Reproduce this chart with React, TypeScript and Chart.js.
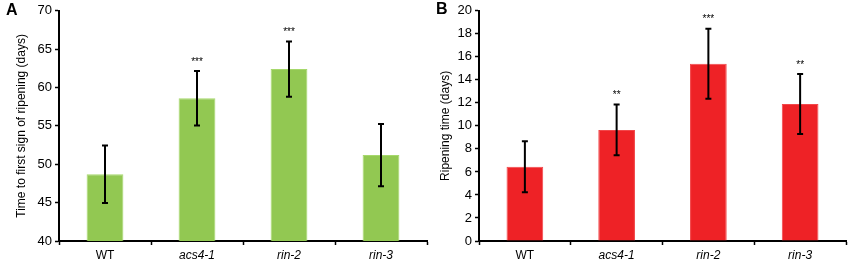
import React, { useEffect, useRef } from "react";
import { Chart, registerables } from "chart.js";

Chart.register(...registerables);

const categories = ["WT", "acs4-1", "rin-2", "rin-3"];

const timeToFirstSign = [48.7, 58.6, 62.4, 51.2];
const timeToFirstSignErr = [3.75, 3.55, 3.6, 4.05];
const timeToFirstSignSig = ["", "***", "***", ""];

const ripeningTime = [6.45, 9.65, 15.4, 11.9];
const ripeningTimeErr = [2.22, 2.2, 3.05, 2.6];
const ripeningTimeSig = ["", "**", "***", "**"];

const FONT = "'Liberation Sans', Arial, Helvetica, sans-serif";

type PanelProps = {
  values: number[];
  errors: number[];
  sig: string[];
  min: number;
  max: number;
  step: number;
  title: string;
  fill: string;
  border: string;
  yWidth: number;
  padRight: number;
  titlePad: number;
  width: number;
};

function Panel(p: PanelProps) {
  const ref = useRef<HTMLCanvasElement | null>(null);
  useEffect(() => {
    if (!ref.current) return;
    const errPlugin = {
      id: "errbars",
      afterDatasetsDraw(chart: any) {
        const ctx = chart.ctx;
        const xs = chart.scales.x;
        const ys = chart.scales.y;
        ctx.save();
        ctx.strokeStyle = "#000";
        ctx.lineWidth = 2;
        p.values.forEach((v, i) => {
          const x = xs.getPixelForValue(i);
          const yt = ys.getPixelForValue(v + p.errors[i]);
          const yb = ys.getPixelForValue(v - p.errors[i]);
          ctx.beginPath();
          ctx.moveTo(x, yt);
          ctx.lineTo(x, yb);
          ctx.moveTo(x - 3, yt);
          ctx.lineTo(x + 3, yt);
          ctx.moveTo(x - 3, yb);
          ctx.lineTo(x + 3, yb);
          ctx.stroke();
          if (p.sig[i]) {
            ctx.fillStyle = "#000";
            ctx.font = `10px ${FONT}`;
            ctx.textAlign = "center";
            ctx.textBaseline = "middle";
            ctx.fillText(p.sig[i], x, yt - 9);
          }
        });
        ctx.restore();
      },
    };
    const chart = new Chart(ref.current, {
      type: "bar",
      data: {
        labels: categories,
        datasets: [
          {
            data: p.values,
            backgroundColor: p.fill,
            borderColor: p.border,
            borderWidth: 1,
            barPercentage: 0.4,
            categoryPercentage: 1,
          },
        ],
      },
      options: {
        animation: false,
        responsive: false,
        maintainAspectRatio: false,
        layout: { padding: { top: 9, right: p.padRight, left: 0, bottom: 0 } },
        plugins: { legend: { display: false }, tooltip: { enabled: false } },
        scales: {
          x: {
            afterFit: (s: any) => {
              s.height = 21;
            },
            grid: {
              display: true,
              drawOnChartArea: false,
              drawTicks: true,
              tickLength: 4,
              tickWidth: 1.5,
              tickColor: "#000",
              offset: true,
            },
            border: { display: true, color: "#000", width: 2 },
            ticks: {
              color: "#000",
              padding: 3,
              font: (c: any) => ({
                family: FONT,
                size: 12,
                style: c.index > 0 ? "italic" : "normal",
              }),
            },
          },
          y: {
            min: p.min,
            max: p.max,
            afterFit: (s: any) => {
              s.width = p.yWidth;
            },
            grid: {
              display: true,
              drawOnChartArea: false,
              drawTicks: true,
              tickLength: 4,
              tickWidth: 1.5,
              tickColor: "#000",
            },
            border: { display: true, color: "#000", width: 2 },
            ticks: {
              stepSize: p.step,
              color: "#000",
              padding: 3,
              font: { family: FONT, size: 13 },
            },
            title: {
              display: true,
              text: p.title,
              color: "#000",
              font: { family: FONT, size: 12 },
              padding: { top: p.titlePad, bottom: 0 },
            },
          },
        },
      },
      plugins: [errPlugin],
    });
    return () => chart.destroy();
  }, []);
  return <canvas ref={ref} width={p.width} height={262} style={{ display: "block", width: p.width, height: 262 }} />;
}

export default function App() {
  return (
    <div style={{ position: "fixed", left: 0, top: 0, width: 851, height: 262, background: "#fff", fontFamily: FONT }}>
      <div style={{ position: "absolute", left: 0, top: 0 }}>
        <Panel
          values={timeToFirstSign}
          errors={timeToFirstSignErr}
          sig={timeToFirstSignSig}
          min={40}
          max={70}
          step={5}
          title="Time to first sign of ripening (days)"
          fill="#92c852"
          border="#a6d86c"
          yWidth={59}
          padRight={3}
          titlePad={14}
          width={430}
        />
      </div>
      <div style={{ position: "absolute", left: 430, top: 0 }}>
        <Panel
          values={ripeningTime}
          errors={ripeningTimeErr}
          sig={ripeningTimeSig}
          min={0}
          max={20}
          step={2}
          title="Ripening time (days)"
          fill="#ee2226"
          border="#f2474a"
          yWidth={49}
          padRight={5}
          titlePad={8}
          width={421}
        />
      </div>
      <div style={{ position: "absolute", left: 6, top: 1, fontWeight: "bold", fontSize: 16, lineHeight: "18px" }}>A</div>
      <div style={{ position: "absolute", left: 436, top: 0, fontWeight: "bold", fontSize: 16, lineHeight: "18px" }}>B</div>
    </div>
  );
}
